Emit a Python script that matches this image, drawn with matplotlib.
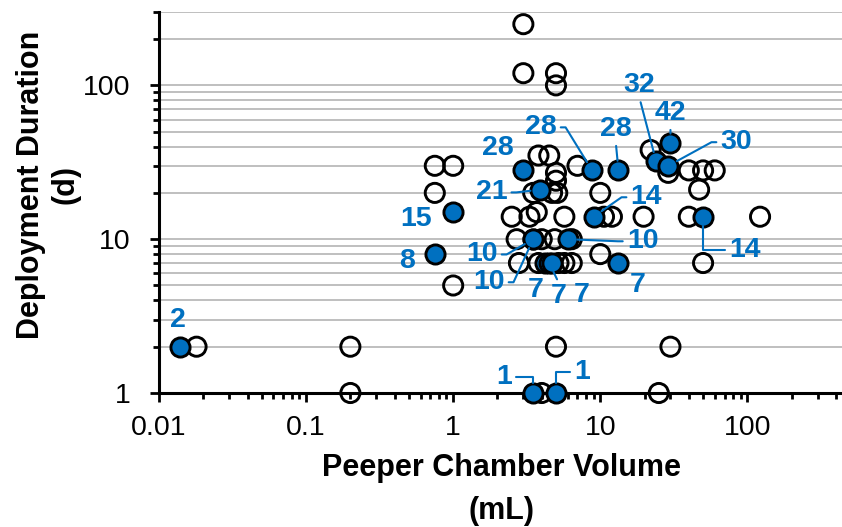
import matplotlib
matplotlib.use("Agg")
import matplotlib.pyplot as plt
from matplotlib import font_manager
from matplotlib.ticker import LogLocator, FixedLocator, NullFormatter, FixedFormatter

plt.rcParams['font.family'] = ['Liberation Sans', 'DejaVu Sans']
names = {f.name for f in font_manager.fontManager.ttflist}
TITLE_FONT = 'Liberation Sans Narrow' if 'Liberation Sans Narrow' in names else 'Liberation Sans'
TITLE_SIZE = 27 if TITLE_FONT == 'Liberation Sans Narrow' else 22

# ---- data ----
open_x = [0.018, 0.2, 0.2, 4.0, 25, 5, 30, 1,
          50, 10,
          2.8, 3.8, 5.2, 5.7, 6.4,
          2.7, 4.0, 4.9, 6.4,
          2.5, 3.3, 3.7, 5.7, 10.6, 12, 19.7, 40, 122,
          0.75, 3.5, 4.7, 5.1, 10, 47,
          5, 5,
          0.75, 1, 7, 22, 29, 40, 50, 60,
          3.8, 4.5,
          3, 3, 5, 5]
open_y = [2, 2, 1, 1, 1, 2, 2, 5,
          7, 8,
          7, 7, 7, 7, 7,
          10, 10, 10, 10,
          14, 14, 15, 14, 14, 14, 14, 14, 14,
          20, 20, 20, 20, 20, 21,
          24, 27,
          30, 30, 30, 38, 27, 28, 28, 28,
          35, 35,
          250, 120, 120, 100]

filled_x = [0.014, 0.75, 1, 3, 3.9, 8.8, 13.3, 24, 30, 29, 9, 50, 6, 3.5, 3.5,
            4.2, 4.5, 4.7, 13.3, 3.5, 5]
filled_y = [2, 8, 15, 28, 21, 28, 28, 32, 42, 30, 14, 14, 10, 10, 10,
            7, 7, 7, 7, 1, 1]
filled_labels = ["2", "8", "15", "28", "21", "28", "28", "32", "42", "30", "14", "14",
                 "10", "10", "10", "7", "7", "7", "7", "1", "1"]

x_ticks = [0.01, 0.1, 1, 10, 100]
x_ticklabels = ["0.01", "0.1", "1", "10", "100"]
y_ticks = [1, 10, 100]
y_ticklabels = ["1", "10", "100"]

x_title = ["Peeper Chamber Volume", "(mL)"]
y_title = ["Deployment Duration", "(d)"]

# ---- label styling: (dx, dy) in points, leader style ----
label_style = [
    ((-1.5, 19.5), None),
    ((-20, -5), None),
    ((-27, -5), None),
    ((-18, 16), None),
    ((-35, -2), ("arc", 0)),
    ((-37, 31), ("arc", 0)),
    ((-2, 30), ("vert", None)),
    ((-12, 55), ("vert", None)),
    ((0, 22), ("vert", None)),
    ((49, 17), ("arc", 180)),
    ((38, 14), ("arc", 180)),
    ((30, -24), ("angle", 180)),
    ((54, -1.5), ("arc", 180)),
    ((-37, -11), ("arc", 0)),
    ((-32, -31), ("arc", 0)),
    ((-6.5, -19.5), None),
    ((7, -24), ("vertdown", None)),
    ((21, -23), None),
    ((14, -16), None),
    ((-21, 11.5), ("angle", 0)),
    ((19, 15), ("angle", 180)),
]

BLUE = "#0070C0"
fig = plt.figure(figsize=(8.42, 5.27), dpi=100)
ax = fig.add_axes([159 / 842, (527 - 393) / 527, (842 - 159) / 842, (393 - 12) / 527])
ax.set_xscale("log")
ax.set_yscale("log")
ax.set_xlim(0.01, 440)
ax.set_ylim(1, 300)

ax.scatter(open_x, open_y, s=190, facecolors="none", edgecolors="black",
           linewidths=2.1, zorder=3, clip_on=False)
ax.scatter(filled_x, filled_y, s=190, facecolors=BLUE, edgecolors="black",
           linewidths=2.1, zorder=4, clip_on=False)

for x, y, lab, ((dx, dy), lead) in zip(filled_x, filled_y, filled_labels, label_style):
    kw = dict(xy=(x, y), xytext=(dx, dy), textcoords="offset points",
              ha="center", va="center", color=BLUE, fontsize=20.5,
              fontweight="bold", zorder=6, annotation_clip=False)
    if lead is not None:
        kind, ang = lead
        ap = dict(arrowstyle="-", color=BLUE, lw=1.5, shrinkA=1, shrinkB=7)
        if kind == "arc":
            ap["connectionstyle"] = f"arc,angleA={ang},armA=9,angleB=0,armB=0,rad=0"
            ap["relpos"] = (1, 0.5) if ang == 0 else (0, 0.5)
        elif kind == "angle":
            ap["connectionstyle"] = f"angle,angleA={ang},angleB=90,rad=0"
            ap["relpos"] = (1, 0.5) if ang == 0 else (0, 0.5)
        elif kind == "vert":
            ap["relpos"] = (0.5, 0)
        elif kind == "vertdown":
            ap["relpos"] = (0.5, 1)
        kw["arrowprops"] = ap
    ax.annotate(lab, **kw)

# ticks
ax.xaxis.set_major_locator(FixedLocator(x_ticks))
ax.xaxis.set_major_formatter(FixedFormatter(x_ticklabels))
ax.xaxis.set_minor_locator(LogLocator(base=10, subs=range(2, 10), numticks=20))
ax.xaxis.set_minor_formatter(NullFormatter())
ax.yaxis.set_major_locator(FixedLocator(y_ticks))
ax.yaxis.set_major_formatter(FixedFormatter(y_ticklabels))
ax.yaxis.set_minor_locator(LogLocator(base=10, subs=range(2, 10), numticks=20))
ax.yaxis.set_minor_formatter(NullFormatter())

ax.tick_params(which="major", direction="out", length=6.5, width=2.0, labelsize=20.5,
               color="black")
ax.tick_params(axis="y", which="major", pad=14)
ax.tick_params(axis="x", which="major", pad=9)
ax.tick_params(which="minor", direction="out", length=4.5, width=2.0, color="black")

ax.yaxis.grid(True, which="both", color="#BFBFBF", linewidth=1.4, zorder=0)
ax.set_axisbelow(True)

for s in ["top", "right"]:
    ax.spines[s].set_visible(False)
for s in ["left", "bottom"]:
    ax.spines[s].set_linewidth(2.2)
    ax.spines[s].set_color("black")

tkw = dict(fontsize=TITLE_SIZE, fontweight="bold", family=[TITLE_FONT, 'DejaVu Sans'],
           ha="center", va="center")
fig.text(31 / 842, 1 - 185 / 527, y_title[0], rotation=90, **tkw)
fig.text(66 / 842, 1 - 185 / 527, y_title[1], rotation=90, **tkw)
fig.text(501 / 842, 1 - 468 / 527, x_title[0], **tkw)
fig.text(501 / 842, 1 - 511 / 527, x_title[1], **tkw)

fig.savefig("out.png", dpi=100)
